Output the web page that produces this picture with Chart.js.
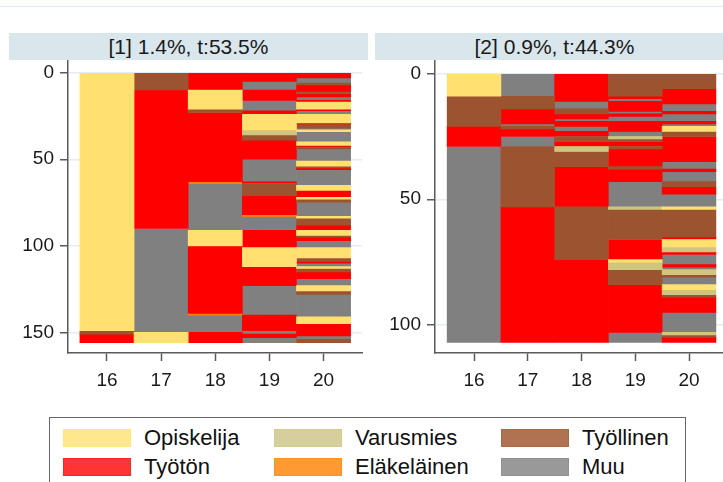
<!DOCTYPE html>
<html><head><meta charset="utf-8">
<script src="https://cdn.jsdelivr.net/npm/chart.js@4"></script>
<style>
html,body{margin:0;padding:0;background:#fff;}
body{width:723px;height:482px;overflow:hidden;position:relative;font-family:"Liberation Sans",Arial,sans-serif;}
.topline{position:absolute;left:0;top:6px;width:723px;height:1px;background:#e3eaee;}
.strip{position:absolute;top:33px;height:27px;width:359px;background:#d9e6ec;color:#1a1a1a;font-size:21px;line-height:27px;text-align:center;white-space:nowrap;}
.cv{position:absolute;top:40px;}
#legend{position:absolute;left:49px;top:417px;width:635px;height:75px;border:1px solid #666;background:#fff;}
.li{position:absolute;height:29px;}
.sw{position:absolute;left:0;top:0;width:68px;height:18px;box-sizing:border-box;}
.lt{position:absolute;left:81px;top:-3px;font-size:22px;line-height:24px;color:#111;white-space:nowrap;}
</style></head><body>
<div class="topline"></div>
<canvas id="c1" class="cv" width="372" height="365" style="left:0px"></canvas>
<canvas id="c2" class="cv" width="356" height="365" style="left:367px"></canvas>
<div class="strip" id="s1" style="left:9px"></div>
<div class="strip" id="s2" style="left:375px"></div>
<div id="legend"></div>
<script>
// ---- data ----
const ages = [16, 17, 18, 19, 20];
const stateCodes = ["O", "V", "L", "T", "E", "M"];
const stateNames = ["Opiskelija", "Varusmies", "Työllinen", "Työtön", "Eläkeläinen", "Muu"];
const panelTitles = ["[1] 1.4%, t:53.5%", "[2] 0.9%, t:44.3%"];
const yTicks1 = [0, 50, 100, 150];
const yTicks2 = [0, 50, 100];
// runs per column: [state, end of run (sequence index)]
const p1_16 = [["O",149],["L",151],["T",156]];
const p1_17 = [["L",10],["T",90],["M",150],["O",156]];
const p1_18 = [["T",10],["O",21],["L",23],["T",63],["E",64],["M",91],["O",100],["T",139],["E",140],["M",150],["T",156]];
const p1_19 = [["T",5],["M",10],["T",16],["M",22],["T",24],["O",33],["V",36],["L",39],["T",50],["M",63],["T",64],["L",71],["T",82],["E",83],["M",91],["T",101],["O",112],["T",123],["M",140],["T",149],["M",151],["T",153],["M",156]];
const p1_20 = [["T",3],["M",6],["L",7],["T",11],["L",12],["T",14],["M",16],["T",17],["O",21],["T",22],["M",24],["O",29],["T",30],["L",32],["M",33],["O",34],["M",40],["O",42],["T",43],["L",44],["M",51],["O",54],["L",55],["T",56],["M",65],["O",68],["T",72],["O",73],["L",75],["M",83],["O",84],["L",88],["T",91],["O",94],["L",95],["T",97],["M",101],["O",107],["L",109],["T",110],["M",112],["O",113],["L",115],["T",119],["M",123],["O",126],["L",128],["M",141],["O",145],["T",152],["M",154],["L",156]];
const p2_16 = [["O",9],["L",21],["T",29],["M",107]];
const p2_17 = [["M",9],["L",14],["T",20],["M",21],["L",22],["T",25],["M",29],["L",53],["T",107]];
const p2_18 = [["T",11],["M",14],["L",16],["T",18],["M",19],["T",21],["M",23],["T",25],["L",27],["T",29],["V",31],["L",37],["T",53],["L",74],["T",107]];
const p2_19 = [["L",9],["T",10],["M",11],["T",15],["M",16],["T",17],["M",19],["T",23],["M",25],["V",26],["L",27],["T",29],["L",30],["T",37],["L",38],["T",43],["M",53],["V",54],["L",66],["T",74],["O",75],["V",78],["L",84],["T",103],["M",107]];
const p2_20 = [["L",6],["T",12],["M",15],["T",16],["M",19],["T",20],["M",21],["O",23],["L",25],["T",35],["M",38],["T",39],["M",43],["L",45],["T",48],["M",53],["O",54],["L",65],["T",66],["O",69],["V",71],["T",72],["M",76],["T",77],["M",78],["V",80],["L",81],["M",84],["O",86],["V",88],["L",89],["T",95],["M",103],["V",104],["L",105],["T",107]];

// ---- styles ----
const barColors = ["#FFE070", "#D0C57C", "#9C532F", "#FF0000", "#FF8000", "#808080"];
const legendColors = ["#FFE78C", "#D6CF9D", "#B07352", "#FF3535", "#FF9A33", "#999999"];
const tickFont = {family: "Liberation Sans", size: 19};
const axisColor = "#5a5a5a";

function buildDatasets(cols) {
  return stateCodes.map((code, si) => {
    const data = [];
    cols.forEach((runs, ci) => {
      let start = 0;
      runs.forEach(([c, end]) => {
        if (c === code) data.push({x: ages[ci], y: [start, end]});
        start = end;
      });
    });
    return {label: stateNames[si], data, backgroundColor: barColors[si], borderWidth: 0,
            barPercentage: 1, categoryPercentage: 1, grouped: false};
  });
}

function makeChart(id, cols, yTicks, xr, yr, padRight) {
  new Chart(document.getElementById(id), {
    type: "bar",
    data: {datasets: buildDatasets(cols)},
    options: {
      responsive: false, animation: false,
      layout: {padding: {top: 20, right: padRight, left: 0, bottom: 0}},
      plugins: {legend: {display: false}, tooltip: {enabled: false}},
      scales: {
        x: {
          type: "linear", min: xr[0], max: xr[1], offset: false,
          afterBuildTicks: s => { s.ticks = ages.map(v => ({value: v})); },
          afterFit: s => { s.height = 52; },
          grid: {offset: false, drawOnChartArea: false, drawTicks: true, tickLength: 8, tickColor: axisColor, tickWidth: 1.5},
          border: {display: true, color: axisColor, width: 1.5},
          ticks: {color: "#1a1a1a", font: tickFont, padding: 8, maxRotation: 0, autoSkip: false}
        },
        y: {
          type: "linear", reverse: true, min: yr[0], max: yr[1],
          afterBuildTicks: s => { s.ticks = yTicks.map(v => ({value: v})); },
          afterFit: s => { s.width = 68; },
          grid: {color: "#e3ecf3", lineWidth: 1.5, tickColor: axisColor, tickLength: 8, tickWidth: 1.5},
          border: {display: true, color: axisColor, width: 1.5},
          ticks: {color: "#1a1a1a", font: tickFont, padding: 6, autoSkip: false}
        }
      }
    }
  });
}

makeChart("c1", [p1_16, p1_17, p1_18, p1_19, p1_20], yTicks1, [15.28, 20.71], [-7.33, 161.9], 10);
makeChart("c2", [p2_16, p2_17, p2_18, p2_19, p2_20], yTicks2, [15.274, 20.632], [-5.44, 111.2], 0);

document.getElementById("s1").textContent = panelTitles[0];
document.getElementById("s2").textContent = panelTitles[1];

// legend (3 columns x 2 rows, row-major)
const legendCols = [13, 224, 451];
const legendRows = [11, 40];
const lg = document.getElementById("legend");
stateNames.forEach((name, i) => {
  const it = document.createElement("div");
  it.className = "li";
  it.style.left = legendCols[i % 3] + "px";
  it.style.top = legendRows[Math.floor(i / 3)] + "px";
  const sw = document.createElement("div");
  sw.className = "sw";
  sw.style.background = legendColors[i];
  sw.style.border = "1px solid " + barColors[i] + "55";
  const t = document.createElement("div");
  t.className = "lt";
  t.textContent = name;
  it.appendChild(sw); it.appendChild(t);
  lg.appendChild(it);
});
</script>
</body></html>
